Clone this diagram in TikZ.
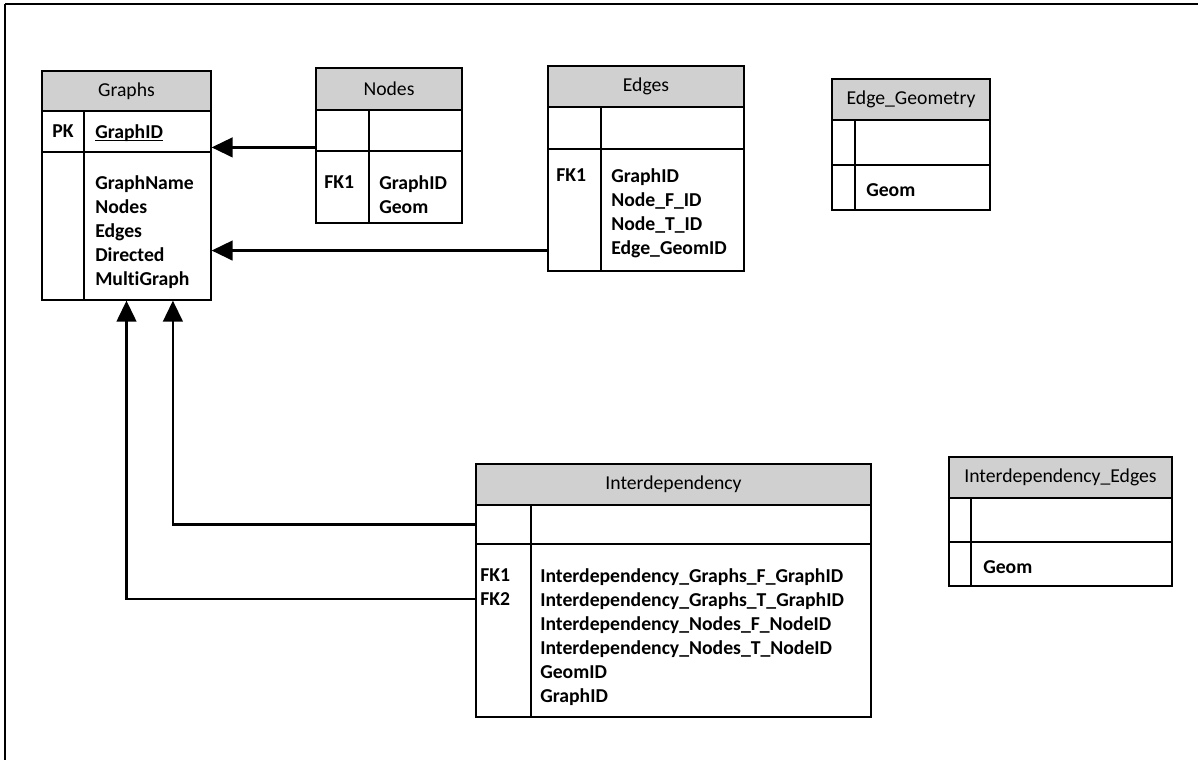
\documentclass[tikz,border=0pt]{standalone}
\usepackage{fontspec}
\setmainfont{Carlito}[Ligatures=NoCommon]
\usetikzlibrary{arrows.meta, fit}

\definecolor{headgray}{RGB}{208,208,208}

\begin{document}
\begin{tikzpicture}[x=0.025cm, y=-0.025cm,
    cell/.style={draw, line width=0.9pt, inner sep=0pt},
    head/.style={cell, fill=headgray},
    title/.style={font=\fontsize{14}{17}\selectfont, inner sep=0pt},
    fld/.style={font=\bfseries\fontsize{14}{17.1}\selectfont, align=left, anchor=north west, inner sep=0pt},
    fk/.style={-{Triangle[length=15pt, width=14pt]}, line width=1.8pt}]

    \useasboundingbox (0,0) rectangle (1198,760);

    % page frame
    \draw[line width=1.6pt] (5,760) -- (5,4);
    \draw[line width=1.1pt] (5,4) -- (1198,4);

    %%%%%%%%%%%%%%%%%%%%%%%%%%%%%%%%%%%%%%%%%%%%%%%%%%%%%%%%%%%%%%%%%%%%%

    % Graphs
    \node[head, fit={(42,71) (211,111)}] (graphs head) {};
    \node[cell, fit={(42,111) (211,152)}] (graphs key) {};
    \node[cell, fit={(42,152) (211,300)}] (graphs body) {};
    \draw[line width=0.9pt] (84,111) -- (84,300);
    \node[title] (graphs title) at (graphs head) {Graphs};

    \node[fld] (graphs pk) at (52,124) {PK};
    \node[fld] (graphs id) at (95,124) {GraphID};
    \draw[line width=0.8pt] ([yshift=-1.5pt]graphs id.base west) -- ([yshift=-1.5pt]graphs id.base east);
    \node[fld] (graphs cols) at (95,175) {GraphName\\Nodes\\Edges\\Directed\\MultiGraph};

    % Nodes
    \node[head, fit={(316,68) (462,110)}] (nodes head) {};
    \node[cell, fit={(316,110) (462,151)}] (nodes key) {};
    \node[cell, fit={(316,151) (462,223)}] (nodes body) {};
    \draw[line width=0.9pt] (369,110) -- (369,223);
    \node[title] (nodes title) at (nodes head) {Nodes};

    \node[fld] (nodes fk) at (324,175) {FK1};
    \node[fld] (nodes cols) at (379,175) {GraphID\\Geom};

    % Edges
    \node[head, fit={(548,66) (744,107)}] (edges head) {};
    \node[cell, fit={(548,107) (744,149)}] (edges key) {};
    \node[cell, fit={(548,149) (744,271)}] (edges body) {};
    \draw[line width=0.9pt] (601,107) -- (601,271);
    \node[title] (edges title) at (edges head) {Edges};

    \node[fld] (edges fk) at (556,168) {FK1};
    \node[fld] (edges cols) at (611,168) {GraphID\\Node\_F\_ID\\Node\_T\_ID\\Edge\_GeomID};

    % Edge_Geometry
    \node[head, fit={(832,79) (990,120)}] (geom head) {};
    \node[cell, fit={(832,120) (990,165)}] (geom key) {};
    \node[cell, fit={(832,165) (990,210)}] (geom body) {};
    \draw[line width=0.9pt] (855,120) -- (855,210);
    \node[title] (geom title) at (geom head) {Edge\_Geometry};

    \node[fld] (geom cols) at (866,183) {Geom};

    %%%%%%%%%%%%%%%%%%%%%%%%%%%%%%%%%%%%%%%%%%%%%%%%%%%%%%%%%%%%%%%%%%%%%

    % Interdependency
    \node[head, fit={(476,464) (871,505)}] (inter head) {};
    \node[cell, fit={(476,505) (871,544)}] (inter key) {};
    \node[cell, fit={(476,544) (871,717)}] (inter body) {};
    \draw[line width=0.9pt] (531,505) -- (531,717);
    \node[title] (inter title) at (inter head) {Interdependency};

    \node[fld] (inter fk) at (480,568) {FK1\\FK2};
    \node[fld] (inter cols) at (540,568) {Interdependency\_Graphs\_F\_GraphID\\Interdependency\_Graphs\_T\_GraphID\\Interdependency\_Nodes\_F\_NodeID\\Interdependency\_Nodes\_T\_NodeID\\GeomID\\GraphID};

    % Interdependency_Edges
    \node[head, fit={(949,457) (1172,498)}] (iedges head) {};
    \node[cell, fit={(949,498) (1172,542)}] (iedges key) {};
    \node[cell, fit={(949,542) (1172,586)}] (iedges body) {};
    \draw[line width=0.9pt] (971,498) -- (971,586);
    \node[title] (iedges title) at (iedges head) {Interdependency\_Edges};

    \node[fld] (iedges cols) at (983,560) {Geom};

    %%%%%%%%%%%%%%%%%%%%%%%%%%%%%%%%%%%%%%%%%%%%%%%%%%%%%%%%%%%%%%%%%%%%%

    % foreign keys
    \coordinate (nodes tail) at ([yshift=3pt]nodes key.south west);
    \coordinate (edges tail) at ([yshift=15pt]edges body.south west);
    \coordinate (inter tail) at ([yshift=-39.7pt]inter body.north west);

    \draw[fk] (nodes tail) -- (nodes tail -| graphs key.east);
    \draw[fk] (edges tail) -- (edges tail -| graphs body.east);
    \draw[fk] (inter key.west) -| ([xshift=33pt]graphs body.south);
    \draw[fk] (inter tail) -| (graphs body.south);

\end{tikzpicture}
\end{document}
